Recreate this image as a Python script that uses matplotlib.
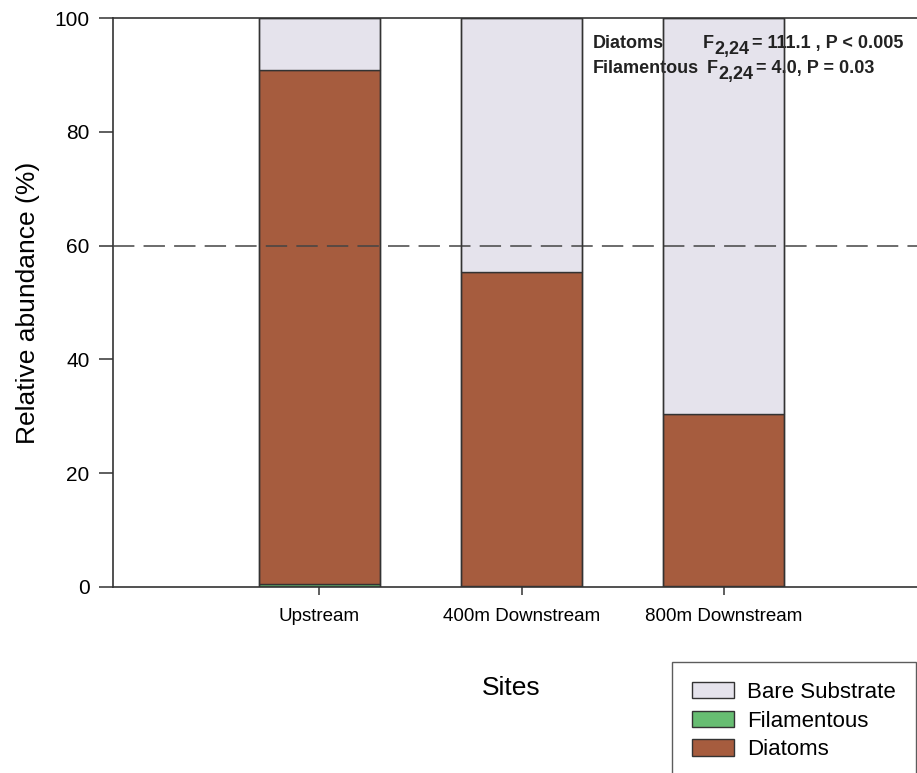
import matplotlib
matplotlib.use("Agg")
import matplotlib.pyplot as plt
from matplotlib.patches import Patch
from matplotlib.transforms import IdentityTransform

plt.rcParams['font.family'] = ['Liberation Sans', 'DejaVu Sans']

# Site categories and stacked relative abundance (%)
sites = ["Upstream", "400m Downstream", "800m Downstream"]
filamentous = [0.6, 0.2, 0.2]
diatoms = [90.3, 55.2, 30.2]
bare_substrate = [100 - f - d for f, d in zip(filamentous, diatoms)]
yticks = [0, 20, 40, 60, 80, 100]
threshold = 60

col_diatoms = "#a65c3e"
col_fil = "#67bd72"
col_bare = "#e5e3ec"
edge = "#333333"

W, H = 917, 773
fig = plt.figure(figsize=(W / 100, H / 100), dpi=100)
ax = fig.add_axes([113 / W, (H - 587) / H, (926 - 113) / W, 569 / H])

x = [1, 2, 3]
bw = 0.6
bottoms = [f + d for f, d in zip(filamentous, diatoms)]
ax.bar(x, filamentous, width=bw, color=col_fil, edgecolor=edge, linewidth=1, zorder=2)
ax.bar(x, diatoms, width=bw, bottom=filamentous, color=col_diatoms, edgecolor=edge,
       linewidth=1, zorder=2)
ax.bar(x, bare_substrate, width=bw, bottom=bottoms, color=col_bare, edgecolor=edge,
       linewidth=1, zorder=2)
# bar outlines redrawn above the annotation text
ax.bar(x, [100] * 3, width=bw, facecolor='none', edgecolor=edge, linewidth=1, zorder=6)

ax.axhline(threshold, color="#444444", linewidth=1.1, dashes=(14, 6), zorder=3)

ax.set_xlim(-0.02, 4.0)
ax.set_ylim(0, 100)
ax.set_yticks(yticks)
ax.set_xticks(x)
ax.set_xticklabels(sites, fontsize=13.5)
ax.tick_params(axis='y', labelsize=15, length=10, pad=7, width=1.1, color="#333333")
ax.tick_params(axis='x', length=6, pad=9, width=1.1, color="#333333")
for s in ax.spines.values():
    s.set_color("#333333")
    s.set_linewidth(1.2)
ax.spines['right'].set_visible(False)

ax.set_ylabel("Relative abundance (%)", fontsize=19, labelpad=10)
fig.text(511 / W, (H - 688) / H, "Sites", fontsize=19, ha='center', va='center')

# Statistics annotation (pixel placement), drawn between bar fills and outlines
def ptext(px, py, s):
    ax.text(px, H - py, s, transform=IdentityTransform(), fontsize=13,
            fontweight='bold', va='baseline', ha='left', color="#222222", zorder=5)

ptext(593, 48, "Diatoms")
ptext(703, 48, "F")
ptext(714, 54, "2,24")
ptext(752, 48, "= 111.1 , P < 0.005")
ptext(593, 73, "Filamentous")
ptext(707, 73, "F")
ptext(718, 79, "2,24")
ptext(756, 73, "= 4.0, P = 0.03")

handles = [Patch(facecolor=col_bare, edgecolor=edge, label="Bare Substrate"),
           Patch(facecolor=col_fil, edgecolor=edge, label="Filamentous"),
           Patch(facecolor=col_diatoms, edgecolor=edge, label="Diatoms")]
leg = fig.legend(handles=handles, loc='upper right',
                 bbox_to_anchor=(916 / W, (H - 662) / H), fontsize=16,
                 frameon=True, fancybox=False, handlelength=1.9, handleheight=0.75,
                 handletextpad=0.6, labelspacing=0.34, borderpad=0.9,
                 borderaxespad=0)
leg.get_frame().set_edgecolor("#333333")
leg.get_frame().set_linewidth(1.0)

fig.savefig("out.png", dpi=100)
